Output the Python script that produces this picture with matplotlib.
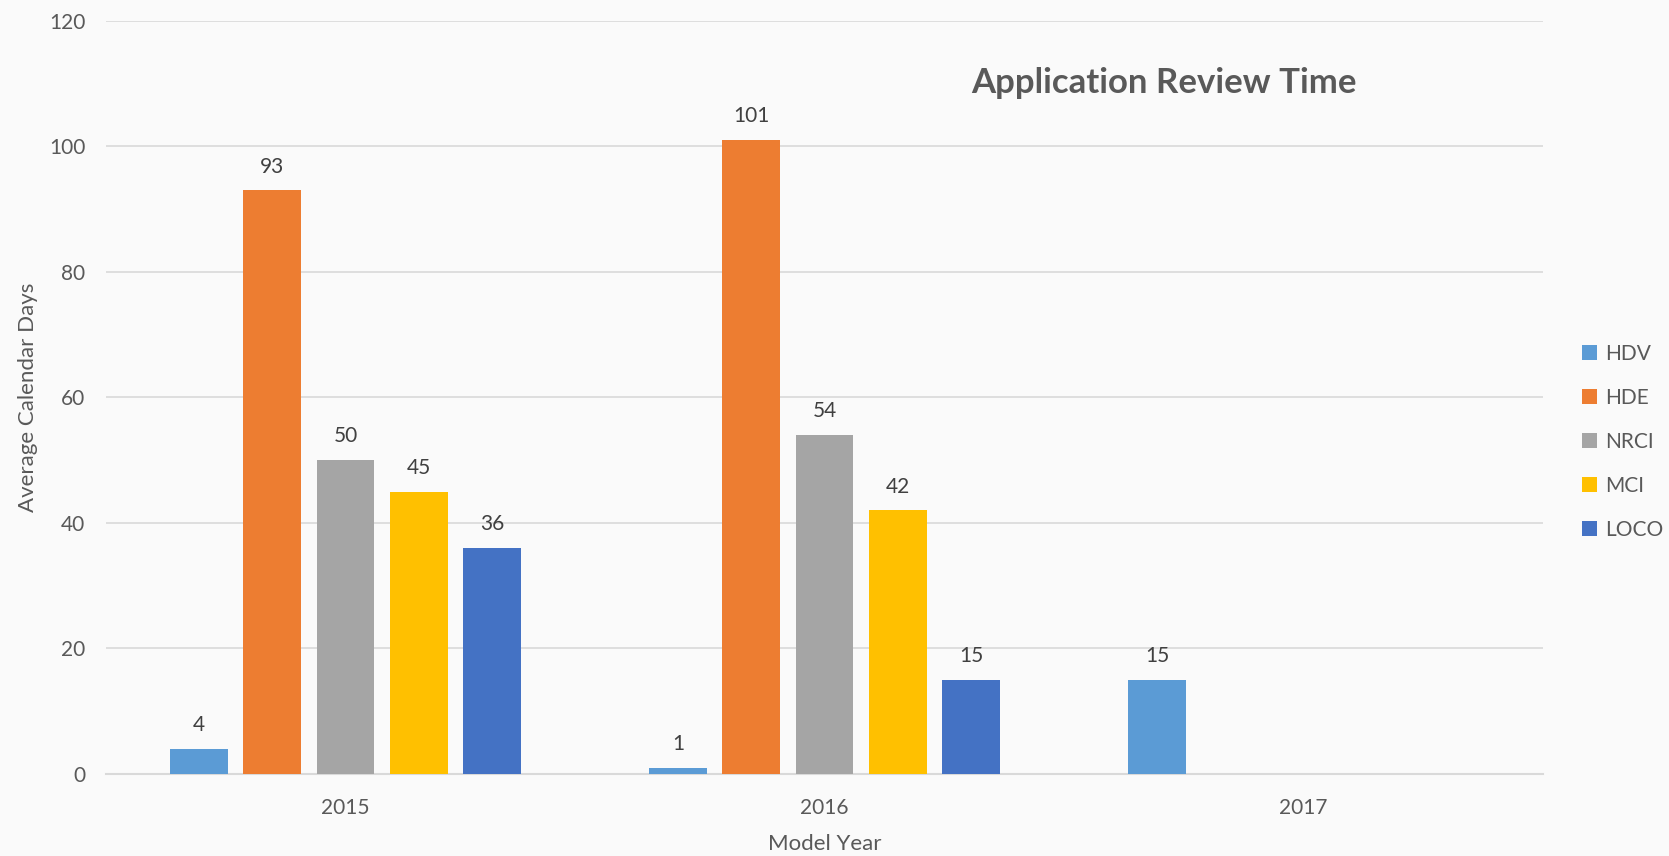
import numpy as np
import matplotlib.pyplot as plt

plt.rcParams['font.family'] = ['Lato', 'DejaVu Sans']

years = ['2015', '2016', '2017']
series = ['HDV', 'HDE', 'NRCI', 'MCI', 'LOCO']
hdv = [4, 1, 15]
hde = [93, 101, np.nan]
nrci = [50, 54, np.nan]
mci = [45, 42, np.nan]
loco = [36, 15, np.nan]
colors = ['#5B9BD5', '#ED7D31', '#A5A5A5', '#FFC000', '#4472C4']

values = [hdv, hde, nrci, mci, loco]

fig = plt.figure(figsize=(16.69, 8.56), dpi=100, facecolor='#fafafa')
ax = fig.add_axes([0.0635, 0.0958, 0.861, 0.8797])
ax.set_facecolor('#fafafa')

x = np.arange(len(years))
pitch = 0.153
width = 0.12
for i, (name, vals, c) in enumerate(zip(series, values, colors)):
    bars = ax.bar(x + (i - 2) * pitch, vals, width, color=c, label=name, zorder=3)
    labels = ['' if np.isnan(v) else '%d' % v for v in vals]
    ax.bar_label(bars, labels=labels, padding=10, fontsize=15, color='#404040')

ax.set_xlim(-0.5, 2.5)
ax.set_ylim(0, 120)
ax.set_yticks(range(0, 121, 20))
ax.set_xticks(x)
ax.set_xticklabels(years)
ax.tick_params(length=0, labelsize=15, labelcolor='#595959')
ax.tick_params(axis='y', pad=15)
ax.tick_params(axis='x', pad=17)
ax.grid(axis='y', color='#d9d9d9', linewidth=1.2, zorder=0)
for s in ['top', 'right', 'left']:
    ax.spines[s].set_visible(False)
ax.spines['bottom'].set_color('#d9d9d9')
ax.spines['bottom'].set_linewidth(1.5)

ax.set_xlabel('Model Year', fontsize=16, color='#595959', labelpad=12)
ax.set_ylabel('Average Calendar Days', fontsize=16, color='#595959', labelpad=8)

fig.text(0.6975, 0.903, 'Application Review Time', fontsize=25, fontweight='bold',
         color='#595959', ha='center', va='center')

fig.legend(loc='center left', bbox_to_anchor=(0.948, 0.484), frameon=False,
           fontsize=15, labelcolor='#595959', handlelength=0.7, handleheight=0.7,
           handletextpad=0.4, labelspacing=1.15, borderaxespad=0, borderpad=0)

fig.savefig('out.png', dpi=100, facecolor=fig.get_facecolor())
